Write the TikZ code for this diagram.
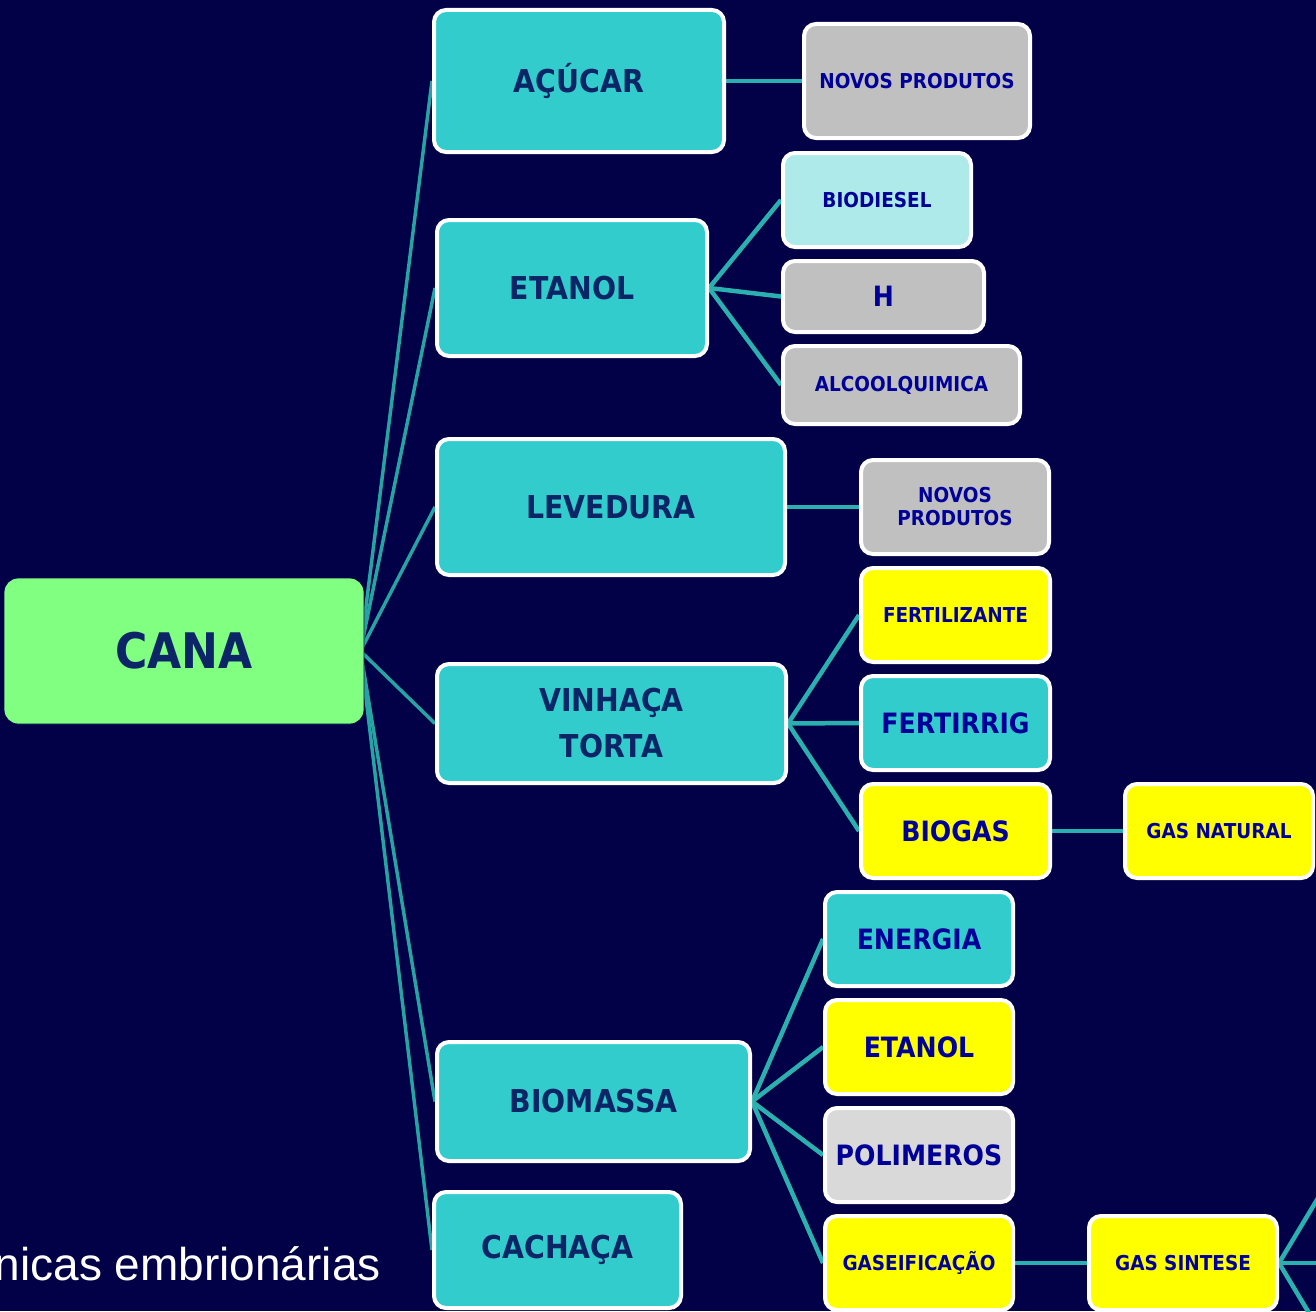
\documentclass[tikz,border=0pt]{standalone}
\usepackage{fontspec}
\setmainfont{DejaVu Sans}[FakeStretch=0.9]
\newfontfamily\arialfont{Liberation Sans}
\definecolor{bgnavy}{HTML}{020046}
\definecolor{tealfill}{HTML}{33CCCC}
\definecolor{linkteal}{HTML}{2BB0B0}
\definecolor{rootlink}{HTML}{26A3A3}
\definecolor{canagreen}{HTML}{80FF80}
\definecolor{yel}{HTML}{FFFF00}
\definecolor{greyfill}{HTML}{C0C0C0}
\definecolor{lightgrey}{HTML}{D9D9D9}
\definecolor{paleteal}{HTML}{AEEAEA}
\definecolor{darknavy}{HTML}{0B2566}
\definecolor{textblue}{HTML}{000099}
\pgfdeclarelayer{bgl}
\pgfdeclarelayer{lines}
\pgfsetlayers{bgl,lines,main}
\tikzset{
  box/.style={draw=white, line width=4pt, rounded corners=12pt, inner sep=0pt, align=center},
  lvlone/.style={box, fill=tealfill, text=darknavy, font=\bfseries\fontsize{31.5}{46}\selectfont},
  small/.style={box, text=textblue, font=\bfseries\fontsize{20.5}{23}\selectfont},
  medium/.style={box, text=textblue, font=\bfseries\fontsize{28}{32}\selectfont},
  rootline/.style={draw=rootlink, line width=3.5pt},
  link/.style={draw=linkteal, line width=4.5pt},
}
\begin{document}
\begin{tikzpicture}[x=1pt,y=-1pt]
\useasboundingbox (0,0) rectangle (1316,1311);
\begin{pgfonlayer}{bgl}
  \fill[bgnavy] (0,0) rectangle (1316,1311);
\end{pgfonlayer}

% root
\node[rounded corners=14pt, fill=canagreen, draw=bgnavy, line width=0.8pt, inner sep=0pt,
      minimum width=360pt, minimum height=146pt, text=darknavy,
      font=\bfseries\fontsize{49}{56}\selectfont] (cana) at (184,651) {CANA};

% level one
\node[lvlone, minimum width=290pt, minimum height=142pt] (acucar) at (579,81) {AÇÚCAR};
\node[lvlone, minimum width=270pt, minimum height=136pt] (etanol) at (572,288) {ETANOL};
\node[lvlone, minimum width=348pt, minimum height=136pt] (levedura) at (611,507) {LEVEDURA};
\node[lvlone, minimum width=349pt, minimum height=119pt] (vinhaca) at (611.5,723.5) {VINHAÇA\\TORTA};
\node[lvlone, minimum width=313pt, minimum height=119pt] (biomassa) at (593.5,1101.5) {BIOMASSA};
\node[lvlone, minimum width=247pt, minimum height=116pt] (cachaca) at (557.5,1250) {CACHAÇA};

% level two
\node[small, fill=greyfill, minimum width=226pt, minimum height=114pt] (novosA) at (917,81) {NOVOS PRODUTOS};
\node[small, fill=paleteal, minimum width=188pt, minimum height=94pt] (biodiesel) at (877,200) {BIODIESEL};
\node[medium, fill=greyfill, minimum width=201pt, minimum height=71pt] (hnode) at (883.5,296.5) {H};
\node[small, fill=greyfill, minimum width=237pt, minimum height=78pt] (alcool) at (901.5,385) {ALCOOLQUIMICA};
\node[small, fill=greyfill, minimum width=188pt, minimum height=94pt] (novosB) at (955,507) {NOVOS\\PRODUTOS};
\node[small, fill=yel, minimum width=189pt, minimum height=94pt] (fertil) at (955.5,615) {FERTILIZANTE};
\node[medium, fill=tealfill, minimum width=189pt, minimum height=94pt] (fertirrig) at (955.5,723) {FERTIRRIG};
\node[medium, fill=yel, minimum width=189pt, minimum height=94pt] (biogas) at (955.5,831) {BIOGAS};
\node[small, fill=yel, minimum width=188pt, minimum height=94pt] (gasnat) at (1219,831) {GAS NATURAL};
\node[medium, fill=tealfill, minimum width=188pt, minimum height=94pt] (energia) at (919,939) {ENERGIA};
\node[medium, fill=yel, minimum width=188pt, minimum height=94pt] (etanolB) at (919,1047) {ETANOL};
\node[medium, fill=lightgrey, minimum width=188pt, minimum height=94pt] (polimeros) at (919,1155) {POLIMEROS};
\node[small, fill=yel, minimum width=188pt, minimum height=94pt] (gaseif) at (919,1263) {GASEIFICAÇÃO};
\node[small, fill=yel, minimum width=188pt, minimum height=94pt] (gassint) at (1183,1263) {GAS SINTESE};

% free ends leaving the picture
\coordinate (outUp) at (1330,1178);
\coordinate (outMid) at (1330,1263);
\coordinate (outDown) at (1330,1348);

% side text
\node[anchor=base east, text=white, inner sep=0pt,
      font=\arialfont\fontsize{46}{50}\selectfont] (sidetext) at (381,1280) {nicas embrionárias};

\begin{pgfonlayer}{lines}
  \clip (0,0) rectangle (1316,1311);
  \foreach \t in {acucar,etanol,levedura,vinhaca,biomassa,cachaca}
    \draw[rootline] ([xshift=-4pt]cana.east) -- (\t.west);
  \draw[link] (acucar.east) -- (novosA.west);
  \foreach \t in {biodiesel,hnode,alcool}
    \draw[link] (etanol.east) -- (\t.west);
  \draw[link] (levedura.east) -- (novosB.west);
  \foreach \t in {fertil,fertirrig,biogas}
    \draw[link] (vinhaca.east) -- (\t.west);
  \draw[link] (biogas.east) -- (gasnat.west);
  \foreach \t in {energia,etanolB,polimeros,gaseif}
    \draw[link] (biomassa.east) -- (\t.west);
  \draw[link] (gaseif.east) -- (gassint.west);
  \foreach \t in {outUp,outMid,outDown}
    \draw[link] (gassint.east) -- (\t);
\end{pgfonlayer}
\end{tikzpicture}
\end{document}
